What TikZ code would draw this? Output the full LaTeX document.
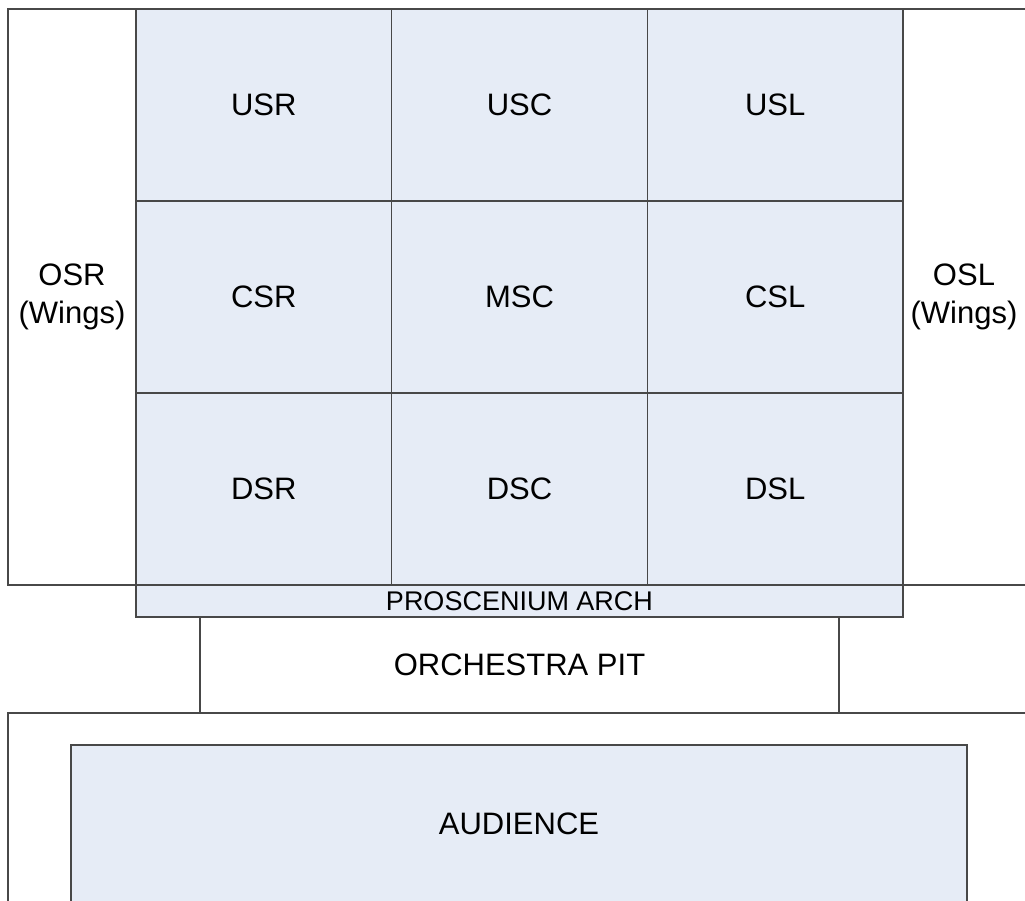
\documentclass[tikz,border=0pt]{standalone}
\usepackage{fontspec}
\setmainfont{Liberation Sans}
\usetikzlibrary{positioning}
\definecolor{stageblue}{RGB}{230,236,246}
\definecolor{stageline}{RGB}{72,72,72}

\begin{document}
\begin{tikzpicture}[x=1pt, y=-1pt,
  lbl/.style={font=\fontsize{31}{38}\selectfont, align=center},
  area/.style={draw=stageline, fill=stageblue, line width=1.2pt, inner sep=0pt},
  cell/.style={area, lbl, minimum width=255.67pt, minimum height=192pt}]

  \clip (0,0) rectangle (1025,901);

  \newcommand\CW{255.67}
  \newcommand\RH{192}

  % stage walls
  \draw[stageline, line width=1.2pt] (1025,9) -- (8,9) -- (8,585) -- (1025,585);

  % the nine acting areas
  \foreach \name [count=\i from 0] in {USR,USC,USL,CSR,MSC,CSL,DSR,DSC,DSL} {
    \pgfmathtruncatemacro\col{mod(\i,3)}
    \pgfmathtruncatemacro\row{div(\i,3)}
    \node[cell] (\name) at ({136+(\col+0.5)*\CW}, {9+(\row+0.5)*\RH}) {\name};
  }

  % wings
  \node[lbl] (osr) at (72,297) {OSR\\(Wings)};
  \node[lbl] (osl) at (964,297) {OSL\\(Wings)};

  % proscenium and pit
  \node[area, minimum width=767pt, minimum height=32pt,
        font=\fontsize{27}{32}\selectfont] (arch) at (519.5,601) {PROSCENIUM ARCH};
  \node[lbl, draw=stageline, line width=1.2pt, inner sep=0pt,
        minimum width=639pt, minimum height=96pt] (pit) at (519.5,665) {ORCHESTRA PIT};

  % house
  \draw[stageline, line width=1.2pt] (1025,713) -- (8,713) -- (8,920);
  \node[area, lbl, minimum width=896pt, minimum height=158pt] (audience) at (519,824) {AUDIENCE};
\end{tikzpicture}
\end{document}
